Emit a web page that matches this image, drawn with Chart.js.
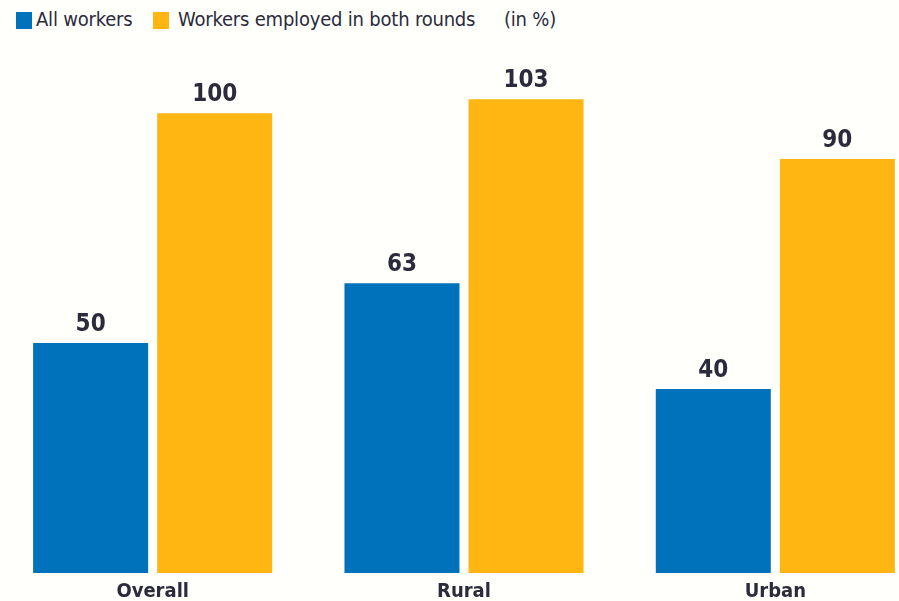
<!DOCTYPE html>
<html>
<head>
<meta charset="utf-8">
<script src="https://cdn.jsdelivr.net/npm/chart.js@4.4.0/dist/chart.umd.min.js"></script>
<style>
  html, body { margin: 0; padding: 0; background: #fffffb; overflow: hidden; }
  body { width: 899px; height: 601px; position: relative; font-family: "DejaVu Sans Condensed", sans-serif; color: #2b2b3b; }
  #wrap { position: absolute; left: -3px; top: 0; width: 934px; height: 601px; }
  .key { position: absolute; top: 5px; font-size: 20px; line-height: 28px; white-space: nowrap; letter-spacing: -0.2px; }
  .sw { position: absolute; top: 12px; width: 16px; height: 17px; }
</style>
</head>
<body>
<div class="sw" style="left:16px;background:#0072bb"></div>
<div class="key" style="left:36px">All workers</div>
<div class="sw" style="left:153px;background:#ffb612"></div>
<div class="key" style="left:178px">Workers employed in both rounds</div>
<div class="key" style="left:504px">(in %)</div>
<div id="wrap"><canvas id="chart"></canvas></div>
<script>
const areas = ['Overall', 'Rural', 'Urban'];
const allWorkers = [50, 63, 40];
const bothRounds = [100, 103, 90];

// writes each bar's value just above its top
const valueLabels = {
    id: 'valueLabels',
    afterDatasetsDraw(chart) {
        const ctx = chart.ctx;
        ctx.save();
        ctx.font = 'bold 24px "DejaVu Sans Condensed", sans-serif';
        ctx.fillStyle = '#2b2b3b';
        ctx.textAlign = 'center';
        ctx.textBaseline = 'alphabetic';
        chart.data.datasets.forEach(function (ds, i) {
            chart.getDatasetMeta(i).data.forEach(function (bar, j) {
                ctx.fillText(ds.data[j], bar.x, bar.y - 12);
            });
        });
        ctx.restore();
    }
};

new Chart(document.getElementById('chart'), {
    type: 'bar',
    data: {
        labels: areas,
        datasets: [{
            label: 'All workers',
            data: allWorkers,
            backgroundColor: '#0072bb'
        }, {
            label: 'Workers employed in both rounds',
            data: bothRounds,
            backgroundColor: '#ffb612'
        }]
    },
    options: {
        responsive: true,
        maintainAspectRatio: false,
        animation: false,
        categoryPercentage: 0.797,
        barPercentage: 0.927,
        layout: { padding: 0 },
        plugins: {
            legend: { display: false },
            tooltip: { enabled: false }
        },
        scales: {
            x: {
                grid: { display: false, drawTicks: false },
                border: { display: false },
                ticks: {
                    color: '#2b2b3b',
                    padding: 9,
                    font: { family: '"DejaVu Sans Condensed", sans-serif', size: 20, weight: 'bold', lineHeight: 1 }
                },
                afterFit: function (axis) { axis.height = 28; }
            },
            y: {
                display: false,
                min: 0,
                max: 124.6
            }
        }
    },
    plugins: [valueLabels]
});
</script>
</body>
</html>
